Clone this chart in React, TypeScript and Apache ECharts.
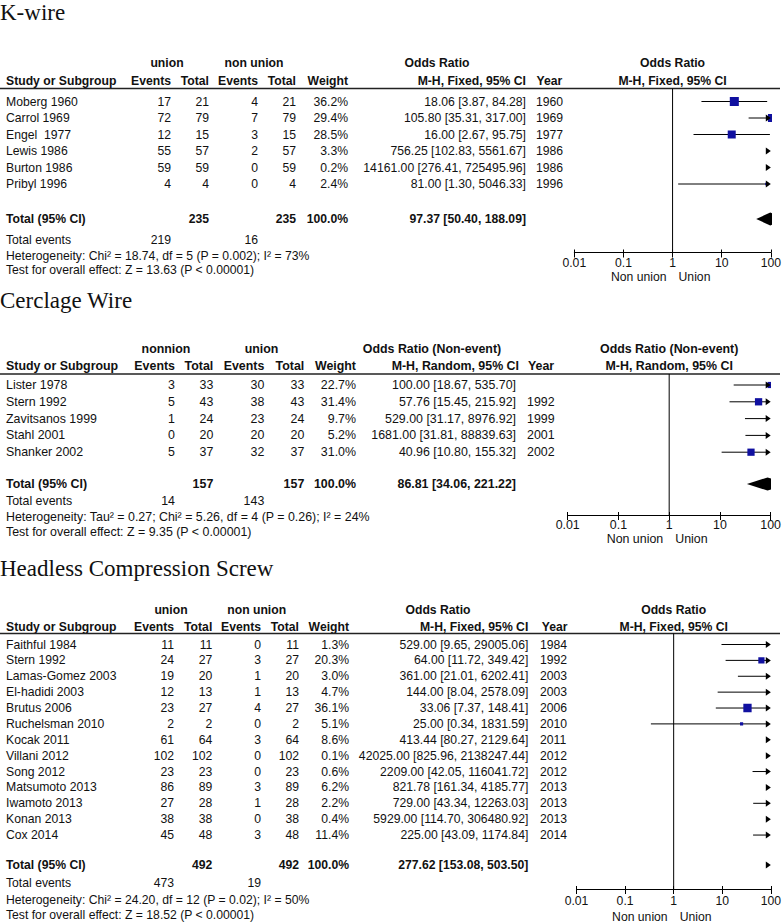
import React, { useEffect, useRef } from "react";
import * as echarts from "echarts";

// ---------- shared axis values ----------
const AXIS_MIN = 0.01;
const AXIS_MAX = 100;
const tickValues = [0.01, 0.1, 1, 10, 100];
const tickLabels = ["0.01", "0.1", "1", "10", "100"];
const favourLabels = ["Non union", "Union"];

// ---------- K-wire ----------
const kStudies = ["Moberg 1960", "Carrol 1969", "Engel  1977", "Lewis 1986", "Burton 1986", "Pribyl 1996"];
const kEv1 = [17, 72, 12, 55, 59, 4];
const kTot1 = [21, 79, 15, 57, 59, 4];
const kEv2 = [4, 7, 3, 2, 0, 0];
const kTot2 = [21, 79, 15, 57, 59, 4];
const kWeight = [36.2, 29.4, 28.5, 3.3, 0.2, 2.4];
const kOR = [18.06, 105.8, 16.0, 756.25, 14161.0, 81.0];
const kLo = [3.87, 35.31, 2.67, 102.83, 276.41, 1.3];
const kHi = [84.28, 317.0, 95.75, 5561.67, 725495.96, 5046.33];
const kYear = ["1960", "1969", "1977", "1986", "1986", "1996"];
const kTotalN = [235, 235];
const kTotalOR = [97.37, 50.4, 188.09];
const kTotalEvents = [219, 16];
const kHet = "Heterogeneity: Chi² = 18.74, df = 5 (P = 0.002); I² = 73%";
const kTest = "Test for overall effect: Z = 13.63 (P < 0.00001)";

// ---------- Cerclage Wire ----------
const cStudies = ["Lister 1978", "Stern 1992", "Zavitsanos 1999", "Stahl 2001", "Shanker 2002"];
const cEv1 = [3, 5, 1, 0, 5];
const cTot1 = [33, 43, 24, 20, 37];
const cEv2 = [30, 38, 23, 20, 32];
const cTot2 = [33, 43, 24, 20, 37];
const cWeight = [22.7, 31.4, 9.7, 5.2, 31.0];
const cOR = [100.0, 57.76, 529.0, 1681.0, 40.96];
const cLo = [18.67, 15.45, 31.17, 31.81, 10.8];
const cHi = [535.7, 215.92, 8976.92, 88839.63, 155.32];
const cYear = ["", "1992", "1999", "2001", "2002"];
const cTotalN = [157, 157];
const cTotalOR = [86.81, 34.06, 221.22];
const cTotalEvents = [14, 143];
const cHet = "Heterogeneity: Tau² = 0.27; Chi² = 5.26, df = 4 (P = 0.26); I² = 24%";
const cTest = "Test for overall effect: Z = 9.35 (P < 0.00001)";

// ---------- Headless Compression Screw ----------
const hStudies = [
  "Faithful 1984", "Stern 1992", "Lamas-Gomez 2003", "El-hadidi 2003", "Brutus 2006",
  "Ruchelsman 2010", "Kocak 2011", "Villani 2012", "Song 2012", "Matsumoto 2013",
  "Iwamoto 2013", "Konan 2013", "Cox 2014",
];
const hEv1 = [11, 24, 19, 12, 23, 2, 61, 102, 23, 86, 27, 38, 45];
const hTot1 = [11, 27, 20, 13, 27, 2, 64, 102, 23, 89, 28, 38, 48];
const hEv2 = [0, 3, 1, 1, 4, 0, 3, 0, 0, 3, 1, 0, 3];
const hTot2 = [11, 27, 20, 13, 27, 2, 64, 102, 23, 89, 28, 38, 48];
const hWeight = [1.3, 20.3, 3.0, 4.7, 36.1, 5.1, 8.6, 0.1, 0.6, 6.2, 2.2, 0.4, 11.4];
const hOR = [529.0, 64.0, 361.0, 144.0, 33.06, 25.0, 413.44, 42025.0, 2209.0, 821.78, 729.0, 5929.0, 225.0];
const hLo = [9.65, 11.72, 21.01, 8.04, 7.37, 0.34, 80.27, 825.96, 42.05, 161.34, 43.34, 114.7, 43.09];
const hHi = [29005.06, 349.42, 6202.41, 2578.09, 148.41, 1831.59, 2129.64, 2138247.44, 116041.72, 4185.77, 12263.03, 306480.92, 1174.84];
const hYear = ["1984", "1992", "2003", "2003", "2006", "2010", "2011", "2012", "2012", "2013", "2013", "2013", "2014"];
const hTotalN = [492, 492];
const hTotalOR = [277.62, 153.08, 503.5];
const hTotalEvents = [473, 19];
const hHet = "Heterogeneity: Chi² = 24.20, df = 12 (P = 0.02); I² = 50%";
const hTest = "Test for overall effect: Z = 18.52 (P < 0.00001)";

const panels = [
  { title: "K-wire", g1: "union", g2: "non union", orHead: "Odds Ratio", method: "M-H, Fixed, 95% CI",
    studies: kStudies, ev1: kEv1, tot1: kTot1, ev2: kEv2, tot2: kTot2, weight: kWeight, or: kOR, lo: kLo, hi: kHi,
    year: kYear, totalN: kTotalN, totalOR: kTotalOR, totalEvents: kTotalEvents, het: kHet, test: kTest },
  { title: "Cerclage Wire", g1: "nonnion", g2: "union", orHead: "Odds Ratio (Non-event)", method: "M-H, Random, 95% CI",
    studies: cStudies, ev1: cEv1, tot1: cTot1, ev2: cEv2, tot2: cTot2, weight: cWeight, or: cOR, lo: cLo, hi: cHi,
    year: cYear, totalN: cTotalN, totalOR: cTotalOR, totalEvents: cTotalEvents, het: cHet, test: cTest },
  { title: "Headless Compression Screw", g1: "union", g2: "non union", orHead: "Odds Ratio", method: "M-H, Fixed, 95% CI",
    studies: hStudies, ev1: hEv1, tot1: hTot1, ev2: hEv2, tot2: hTot2, weight: hWeight, or: hOR, lo: hLo, hi: hHi,
    year: hYear, totalN: hTotalN, totalOR: hTotalOR, totalEvents: hTotalEvents, het: hHet, test: hTest },
];

// ---------- layout (positions only) ----------
const layouts = [
  { titleY: 12, headY: 63, subY: 80.5, lineY: 88.5, y0: 101.5, rowH: 16.5, totalY: 219, eventsY: 239.5, hetY: 255.5, testY: 270,
    axisY: 252.5, labelY: 263, favY: 276.5,
    study: 6, ev1: 171, tot1: 209, ev2: 258, tot2: 296, weight: 348, orR: 526, yearL: 536,
    g1C: 167, g2C: 254, orHeadC: 437, methodR: 526, yearHeadL: 536.5,
    xMin: 574.3, xMax: 776.7, fs: 12.2, sq: 1.5 },
  { titleY: 300, headY: 349, subY: 366, lineY: 374, y0: 385, rowH: 16.8, totalY: 484, eventsY: 501, hetY: 516.5, testY: 531.5,
    axisY: 515, labelY: 525, favY: 539,
    study: 6, ev1: 175, tot1: 213.3, ev2: 264.3, tot2: 304.3, weight: 356, orR: 516, yearL: 527,
    g1C: 166, g2C: 261.5, orHeadC: 432, methodR: 519, yearHeadL: 528,
    xMin: 567.7, xMax: 775, fs: 12.4, sq: 1.3 },
  { titleY: 568, headY: 610, subY: 626.5, lineY: 633.5, y0: 644.5, rowH: 15.88, totalY: 865, eventsY: 883, hetY: 899.5, testY: 915,
    axisY: 889, labelY: 901.5, favY: 917,
    study: 6, ev1: 174, tot1: 212.3, ev2: 261, tot2: 299, weight: 349, orR: 528.3, yearL: 540,
    g1C: 171, g2C: 256.7, orHeadC: 438, methodR: 528.3, yearHeadL: 541.7,
    xMin: 576.5, xMax: 776, fs: 12.2, sq: 1.38 },
];

const INK = "#111111";
const SQUARE = "#1010a0";
const SANS = '"Liberation Sans", Arial, Helvetica, sans-serif';
const SERIF = '"Liberation Serif", "Times New Roman", serif';

const fmtCI = (o: number, l: number, h: number) => `${o.toFixed(2)} [${l.toFixed(2)}, ${h.toFixed(2)}]`;

function labelFor(v: number) {
  let best = 0;
  let bd = Infinity;
  tickValues.forEach((t, i) => {
    const d = Math.abs(Math.log10(t) - Math.log10(v));
    if (d < bd) { bd = d; best = i; }
  });
  return tickLabels[best];
}

function makeRender(sqK: number) {
  return (params: any, api: any) => {
    const row = api.value(0);
    const or = api.value(1);
    const lo = api.value(2);
    const hi = api.value(3);
    const w = api.value(4);
    const isTotal = api.value(5);
    const y = api.coord([1, row])[1];
    const xMinPx = api.coord([AXIS_MIN, row])[0];
    const xMaxPx = api.coord([AXIS_MAX, row])[0];
    const px = (v: number) => api.coord([v, row])[0];
    const children: any[] = [];
    const arrowRight = () => ({
      type: "polygon",
      shape: { points: [[xMaxPx, y], [xMaxPx - 5, y - 3.5], [xMaxPx - 5, y + 3.5]] },
      style: { fill: "#000" },
    });
    const arrowLeft = () => ({
      type: "polygon",
      shape: { points: [[xMinPx, y], [xMinPx + 5, y - 3.5], [xMinPx + 5, y + 3.5]] },
      style: { fill: "#000" },
    });
    if (lo >= AXIS_MAX) {
      children.push(arrowRight());
    } else if (hi <= AXIS_MIN) {
      children.push(arrowLeft());
    } else if (isTotal) {
      children.push({
        type: "polygon",
        shape: { points: [[px(lo), y], [px(or), y - 6.5], [px(hi), y], [px(or), y + 6.5]] },
        style: { fill: "#000" },
      });
    } else {
      const x1 = lo < AXIS_MIN ? xMinPx + 4 : px(lo);
      const x2 = hi > AXIS_MAX ? xMaxPx - 4 : px(hi);
      children.push({ type: "line", shape: { x1, y1: y, x2, y2: y }, style: { stroke: "#000", lineWidth: 1 } });
      const s = Math.max(2.2, sqK * Math.sqrt(w));
      const cx = px(or);
      children.push({ type: "rect", shape: { x: cx - s / 2, y: y - s / 2, width: s, height: s }, style: { fill: SQUARE } });
      if (hi > AXIS_MAX) children.push(arrowRight());
      if (lo < AXIS_MIN) children.push(arrowLeft());
    }
    return { type: "group", children };
  };
}

function txt(x: number, y: number, text: string, fs: number, opt: { bold?: boolean; align?: string; font?: string } = {}) {
  const align = opt.align || "left";
  return {
    type: "text",
    x,
    y,
    silent: true,
    style: {
      text,
      fill: INK,
      fontSize: fs,
      fontFamily: opt.font || SANS,
      fontWeight: opt.bold ? "bold" : "normal",
      align,
      textAlign: align,
      verticalAlign: "middle",
      textVerticalAlign: "middle",
    },
  };
}

export default function App() {
  const ref = useRef<HTMLDivElement>(null);
  useEffect(() => {
    if (!ref.current) return;
    const chart = echarts.init(ref.current, null, { renderer: "svg" });
    const grids: any[] = [];
    const xAxes: any[] = [];
    const yAxes: any[] = [];
    const series: any[] = [];

    panels.forEach((p, i) => {
      const L = layouts[i];
      const gh = L.axisY - L.lineY;
      grids.push({ left: L.xMin, top: L.lineY, width: L.xMax - L.xMin, height: gh, containLabel: false });
      const yMin = (L.lineY - L.y0) / L.rowH;
      const yMax = (L.axisY - L.y0) / L.rowH;
      yAxes.push({ type: "value", gridIndex: i, inverse: true, min: yMin, max: yMax, show: false });
      xAxes.push({
        type: "log", logBase: 10, gridIndex: i, min: AXIS_MIN, max: AXIS_MAX, position: "bottom",
        axisLine: { show: true, onZero: false, lineStyle: { color: "#000", width: 1 } },
        axisTick: { show: true, length: 5, lineStyle: { color: "#000", width: 1 } },
        axisLabel: {
          show: true, margin: L.labelY - L.fs / 2 - L.axisY, fontSize: L.fs, fontFamily: SANS, color: INK,
          showMinLabel: true, showMaxLabel: true, formatter: (v: number) => labelFor(v),
        },
        splitLine: { show: false },
      });
      // companion axis drawn on the same bottom line, giving the upward half of each tick
      xAxes.push({
        type: "log", logBase: 10, gridIndex: i, min: AXIS_MIN, max: AXIS_MAX, position: "top", offset: -gh,
        axisLine: { show: false },
        axisTick: { show: true, inside: false, length: 3, lineStyle: { color: "#000", width: 1 } },
        axisLabel: { show: false },
        splitLine: { show: false },
      });
      const totalIdx = (L.totalY - L.y0) / L.rowH;
      const data: any[] = p.studies.map((_, j) => [j, p.or[j], p.lo[j], p.hi[j], p.weight[j], 0]);
      data.push([totalIdx, p.totalOR[0], p.totalOR[1], p.totalOR[2], 100, 1]);
      series.push({
        type: "custom", xAxisIndex: 2 * i, yAxisIndex: i, clip: true, silent: true,
        renderItem: makeRender(L.sq), data, encode: { x: 1, y: 0 },
      });
      series.push({
        type: "line", xAxisIndex: 2 * i, yAxisIndex: i, silent: true, symbol: "none", showSymbol: false,
        data: [[1, yMin], [1, yMax]], lineStyle: { color: "#000", width: 1 },
      });
    });

    chart.setOption({ animation: false, grid: grids, xAxis: xAxes, yAxis: yAxes, series });

    const els: any[] = [];
    panels.forEach((p, i) => {
      const L = layouts[i];
      const fs = L.fs;
      const x1 = (chart.convertToPixel({ xAxisIndex: 2 * i, yAxisIndex: i } as any, [1, 0]) as number[])[0];
      els.push(txt(0, L.titleY, p.title, 23, { font: SERIF }));
      // group headers
      els.push(txt(L.g1C, L.headY, p.g1, fs, { bold: true, align: "center" }));
      els.push(txt(L.g2C, L.headY, p.g2, fs, { bold: true, align: "center" }));
      els.push(txt(L.orHeadC, L.headY, p.orHead, fs, { bold: true, align: "center" }));
      els.push(txt(x1, L.headY, p.orHead, fs, { bold: true, align: "center" }));
      // sub headers
      els.push(txt(L.study, L.subY, "Study or Subgroup", fs, { bold: true }));
      els.push(txt(L.ev1, L.subY, "Events", fs, { bold: true, align: "right" }));
      els.push(txt(L.tot1, L.subY, "Total", fs, { bold: true, align: "right" }));
      els.push(txt(L.ev2, L.subY, "Events", fs, { bold: true, align: "right" }));
      els.push(txt(L.tot2, L.subY, "Total", fs, { bold: true, align: "right" }));
      els.push(txt(L.weight, L.subY, "Weight", fs, { bold: true, align: "right" }));
      els.push(txt(L.methodR, L.subY, p.method, fs, { bold: true, align: "right" }));
      els.push(txt(L.yearHeadL, L.subY, "Year", fs, { bold: true }));
      els.push(txt(x1, L.subY, p.method, fs, { bold: true, align: "center" }));
      els.push({
        type: "line", silent: true,
        shape: { x1: 0, y1: L.lineY, x2: 780, y2: L.lineY },
        style: { stroke: "#222", lineWidth: 1.3 },
      });
      // study rows
      p.studies.forEach((s, j) => {
        const y = L.y0 + j * L.rowH;
        els.push(txt(L.study, y, s, fs));
        els.push(txt(L.ev1, y, String(p.ev1[j]), fs, { align: "right" }));
        els.push(txt(L.tot1, y, String(p.tot1[j]), fs, { align: "right" }));
        els.push(txt(L.ev2, y, String(p.ev2[j]), fs, { align: "right" }));
        els.push(txt(L.tot2, y, String(p.tot2[j]), fs, { align: "right" }));
        els.push(txt(L.weight, y, `${p.weight[j].toFixed(1)}%`, fs, { align: "right" }));
        els.push(txt(L.orR, y, fmtCI(p.or[j], p.lo[j], p.hi[j]), fs, { align: "right" }));
        if (p.year[j]) els.push(txt(L.yearL, y, p.year[j], fs));
      });
      // total row
      els.push(txt(L.study, L.totalY, "Total (95% CI)", fs, { bold: true }));
      els.push(txt(L.tot1, L.totalY, String(p.totalN[0]), fs, { bold: true, align: "right" }));
      els.push(txt(L.tot2, L.totalY, String(p.totalN[1]), fs, { bold: true, align: "right" }));
      els.push(txt(L.weight, L.totalY, "100.0%", fs, { bold: true, align: "right" }));
      els.push(txt(L.orR, L.totalY, fmtCI(p.totalOR[0], p.totalOR[1], p.totalOR[2]), fs, { bold: true, align: "right" }));
      els.push(txt(L.study, L.eventsY, "Total events", fs));
      els.push(txt(L.ev1, L.eventsY, String(p.totalEvents[0]), fs, { align: "right" }));
      els.push(txt(L.ev2, L.eventsY, String(p.totalEvents[1]), fs, { align: "right" }));
      els.push(txt(L.study, L.hetY, p.het, fs));
      els.push(txt(L.study, L.testY, p.test, fs));
      // favours labels
      els.push(txt(x1 - 6, L.favY, favourLabels[0], fs, { align: "right" }));
      els.push(txt(x1 + 6, L.favY, favourLabels[1], fs));
    });
    chart.setOption({ graphic: { elements: els } });

    return () => chart.dispose();
  }, []);
  return <div ref={ref} style={{ position: "absolute", left: 0, top: 0, width: 784, height: 924 }} />;
}
